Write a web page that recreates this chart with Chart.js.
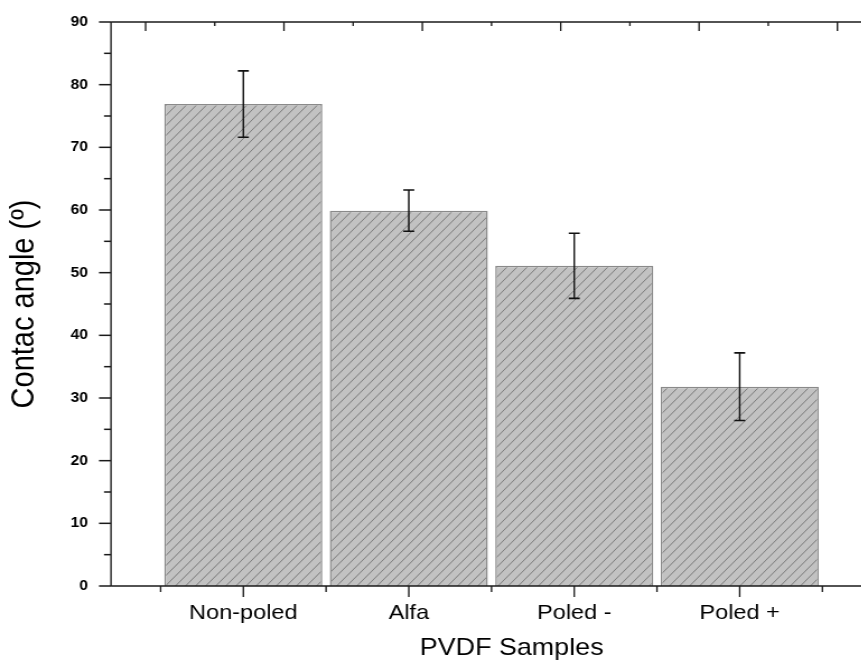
<!DOCTYPE html>
<html>
<head>
<meta charset="utf-8">
<script src="https://cdn.jsdelivr.net/npm/chart.js@4/dist/chart.umd.min.js"></script>
<style>
    html, body { margin: 0; padding: 0; background: #fff; overflow: hidden; }
    #wrap { width: 861px; height: 665px; overflow: hidden; }
    /* the reference is stretched sideways, so the canvas is too */
    #stretch { width: 800px; height: 665px; transform: scaleX(1.12); transform-origin: 0 0; }
</style>
</head>
<body>
<div id="wrap"><div id="stretch"><canvas id="angleChart" width="800" height="665"></canvas></div></div>
<script>
    const samples = ['Non-poled', 'Alfa', 'Poled -', 'Poled +'];
    const contactAngle = [76.9, 59.9, 51.1, 31.8];
    const angleError = [5.3, 3.3, 5.2, 5.4];
    const yTicks = [0, 10, 20, 30, 40, 50, 60, 70, 80, 90];
    const topTicks = [0, 1, 2, 3, 4, 5];

    const SX = 1.12;
    const FONT = '"Liberation Sans", Arial, sans-serif';

    const canvas = document.getElementById('angleChart');
    const ctx = canvas.getContext('2d');

    function hatchPattern() {
        const tile = document.createElement('canvas');
        tile.width = 9;
        tile.height = 10;
        const g = tile.getContext('2d');
        g.fillStyle = '#c2c2c2';
        g.fillRect(0, 0, 9, 10);
        g.strokeStyle = '#7c7c7c';
        g.lineWidth = 1;
        [-9, 0, 9].forEach(dx => {
            g.beginPath();
            g.moveTo(dx, 10);
            g.lineTo(dx + 9, 0);
            g.stroke();
        });
        return ctx.createPattern(tile, 'repeat');
    }

    // error bars
    const errorBars = {
        id: 'errorBars',
        afterDatasetsDraw(chart) {
            const { ctx, scales: { x, y } } = chart;
            ctx.save();
            ctx.strokeStyle = '#111';
            contactAngle.forEach((v, i) => {
                const px = x.getPixelForValue(i + 1);
                const top = y.getPixelForValue(v + angleError[i]);
                const bot = y.getPixelForValue(v - angleError[i]);
                const half = 5.5 / SX;
                ctx.lineWidth = 1.6 / SX;
                ctx.beginPath();
                ctx.moveTo(px, top);
                ctx.lineTo(px, bot);
                ctx.stroke();
                ctx.lineWidth = 1.6;
                ctx.beginPath();
                ctx.moveTo(px - half, top);
                ctx.lineTo(px + half, top);
                ctx.moveTo(px - half, bot);
                ctx.lineTo(px + half, bot);
                ctx.stroke();
            });
            ctx.restore();
        }
    };

    // Origin-style frame with major and minor ticks
    const axesFrame = {
        id: 'axesFrame',
        afterDraw(chart) {
            const { ctx, chartArea: a, scales: { x, y, x2 } } = chart;
            ctx.save();
            ctx.strokeStyle = '#1a1a1a';
            const hLine = (x0, x1, yy) => {
                ctx.lineWidth = 1.5;
                ctx.beginPath(); ctx.moveTo(x0, yy); ctx.lineTo(x1, yy); ctx.stroke();
            };
            const vLine = (xx, y0, y1) => {
                ctx.lineWidth = 1.5 / SX;
                ctx.beginPath(); ctx.moveTo(xx, y0); ctx.lineTo(xx, y1); ctx.stroke();
            };

            vLine(a.left, a.top, a.bottom);
            hLine(a.left, a.right, a.top);
            hLine(a.left, a.right, a.bottom);

            // left axis
            yTicks.forEach((v, i) => {
                hLine(a.left - 12 / SX, a.left, y.getPixelForValue(v));
                if (i < yTicks.length - 1) {
                    hLine(a.left - 7 / SX, a.left, y.getPixelForValue((v + yTicks[i + 1]) / 2));
                }
            });

            // bottom axis: majors at samples, minors at the bar edges
            samples.forEach((s, i) => {
                vLine(x.getPixelForValue(i + 1), a.bottom, a.bottom + 11);
            });
            for (let i = 0; i <= samples.length; i++) {
                vLine(x.getPixelForValue(i + 0.5), a.bottom, a.bottom + 6);
            }

            // top axis, ticks pointing in
            topTicks.forEach((v, i) => {
                vLine(x2.getPixelForValue(v), a.top, a.top + 9);
                if (i < topTicks.length - 1) {
                    vLine(x2.getPixelForValue(v + 0.5), a.top, a.top + 4);
                }
            });

            ctx.fillStyle = '#000';
            ctx.font = '24px ' + FONT;
            ctx.textAlign = 'center';
            ctx.textBaseline = 'middle';
            ctx.fillText('PVDF Samples', (a.left + a.right) / 2 + 18, 648);
            ctx.restore();
        }
    };

    const angleChart = new Chart(ctx, {
        type: 'bar',
        data: {
            datasets: [{
                label: 'Contac angle',
                data: contactAngle.map((v, i) => ({ x: i + 1, y: v })),
                backgroundColor: hatchPattern(),
                borderColor: '#8a8a8a',
                borderWidth: 1.5,
                barPercentage: 0.955,
                categoryPercentage: 1
            }]
        },
        options: {
            responsive: false,
            animation: false,
            devicePixelRatio: 1,
            layout: { padding: { top: 22, right: 21.4, bottom: 0, left: 0 } },
            plugins: {
                legend: { display: false },
                tooltip: { enabled: false }
            },
            scales: {
                x: {
                    type: 'linear',
                    position: 'bottom',
                    min: 0.2,
                    max: 4.8,
                    offset: false,
                    grid: { display: false, drawTicks: false },
                    border: { display: false },
                    afterBuildTicks: s => { s.ticks = samples.map((c, i) => ({ value: i + 1 })); },
                    afterFit: s => { s.height = 79; },
                    ticks: {
                        padding: 15,
                        maxRotation: 0,
                        color: '#000',
                        font: { family: FONT, size: 21 },
                        callback: v => samples[Math.round(v) - 1]
                    }
                },
                x2: {
                    type: 'linear',
                    position: 'top',
                    min: 0,
                    max: 5,
                    grid: { display: false, drawTicks: false },
                    border: { display: false },
                    ticks: { display: false },
                    afterFit: s => { s.height = 0; }
                },
                y: {
                    min: 0,
                    max: 90,
                    // tick marks are drawn by the plugin; tickLength only spaces the labels
                    grid: { display: false, drawTicks: true, tickLength: 20.5 },
                    border: { display: false },
                    afterBuildTicks: s => { s.ticks = yTicks.map(v => ({ value: v })); },
                    afterFit: s => { s.width = 99.1; },
                    ticks: {
                        padding: 0,
                        color: '#000',
                        font: { family: FONT, size: 14, weight: 'bold' }
                    },
                    title: {
                        display: true,
                        text: 'Contac angle (º)',
                        color: '#000',
                        padding: { top: 5, bottom: 0 },
                        font: { family: FONT, size: 29 }
                    }
                }
            }
        },
        plugins: [errorBars, axesFrame]
    });
</script>
</body>
</html>
